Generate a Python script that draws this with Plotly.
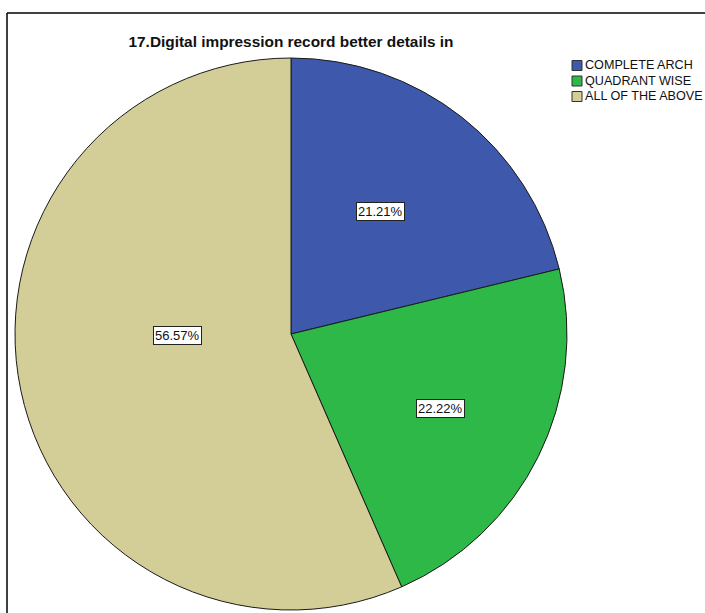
import math
import plotly.graph_objects as go

# Survey responses: "17.Digital impression record better details in"
categories = ["COMPLETE ARCH", "QUADRANT WISE", "ALL OF THE ABOVE"]
counts = [21, 22, 56]
colors = ["#3e58ac", "#2eb848", "#d3ce97"]

W, H = 705, 613
total = sum(counts)
percents = [100 * c / total for c in counts]
FONT = "Liberation Sans, Arial"


def px_x(v):
    return v / W


def px_y(v):
    return 1 - v / H


fig = go.Figure()
fig.add_trace(go.Pie(
    labels=categories,
    values=counts,
    sort=False,
    direction="clockwise",
    rotation=0,
    marker=dict(colors=colors, line=dict(color="#1a1a1a", width=1)),
    textinfo="none",
    hoverinfo="label+percent",
    domain=dict(x=[px_x(15), px_x(567)], y=[px_y(611), px_y(57)]),
    showlegend=False,
))

# Percentage labels in white boxes, placed along each slice's mid-angle
cx, cy, R = 291, 334, 276
radial = [0.55, 0.605, 0.41]
angle_shift = [-2, 0, 11]  # degrees, small nudges away from the exact mid-angle
start = 0.0
for i, (c, p) in enumerate(zip(counts, percents)):
    mid = (start + c / 2) / total * 360 + angle_shift[i]
    start += c
    a = math.radians(mid)
    lx = cx + radial[i] * R * math.sin(a)
    ly = cy - radial[i] * R * math.cos(a)
    fig.add_annotation(
        x=px_x(lx), y=px_y(ly), xref="paper", yref="paper",
        xanchor="center", yanchor="middle",
        text=f"{p:.2f}%", showarrow=False,
        font=dict(family=FONT, size=13, color="#111111"),
        bgcolor="white", bordercolor="#222222", borderwidth=1, borderpad=1,
    )

# Legend: colour swatches with category names
row_y = [65.5, 81, 96.5]
for name, col, ry in zip(categories, colors, row_y):
    fig.add_shape(type="rect", xref="paper", yref="paper",
                  x0=px_x(572), x1=px_x(582), y0=px_y(ry + 5), y1=px_y(ry - 5),
                  fillcolor=col, line=dict(color="#333333", width=1))
    fig.add_annotation(
        x=px_x(584), y=px_y(ry), xref="paper", yref="paper",
        text=name, showarrow=False, xanchor="left", yanchor="middle",
        font=dict(family=FONT, size=12.6, color="#111111"),
        borderpad=0,
    )

# Outer frame (left and top edges)
fig.add_shape(type="line", xref="paper", yref="paper",
              x0=px_x(7), x1=px_x(7), y0=0, y1=px_y(13),
              line=dict(color="black", width=1.5))
fig.add_shape(type="line", xref="paper", yref="paper",
              x0=px_x(7), x1=1, y0=px_y(13), y1=px_y(13),
              line=dict(color="black", width=1.5))

fig.update_layout(
    width=W, height=H,
    margin=dict(l=0, r=0, t=0, b=0),
    paper_bgcolor="white",
    plot_bgcolor="white",
    showlegend=False,
    title=dict(
        text="<b>17.Digital impression record better details in</b>",
        x=px_x(291), xanchor="center", y=px_y(42), yanchor="middle",
        font=dict(family=FONT, size=15.4, color="#111111"),
    ),
)

fig.write_html("out.html")
